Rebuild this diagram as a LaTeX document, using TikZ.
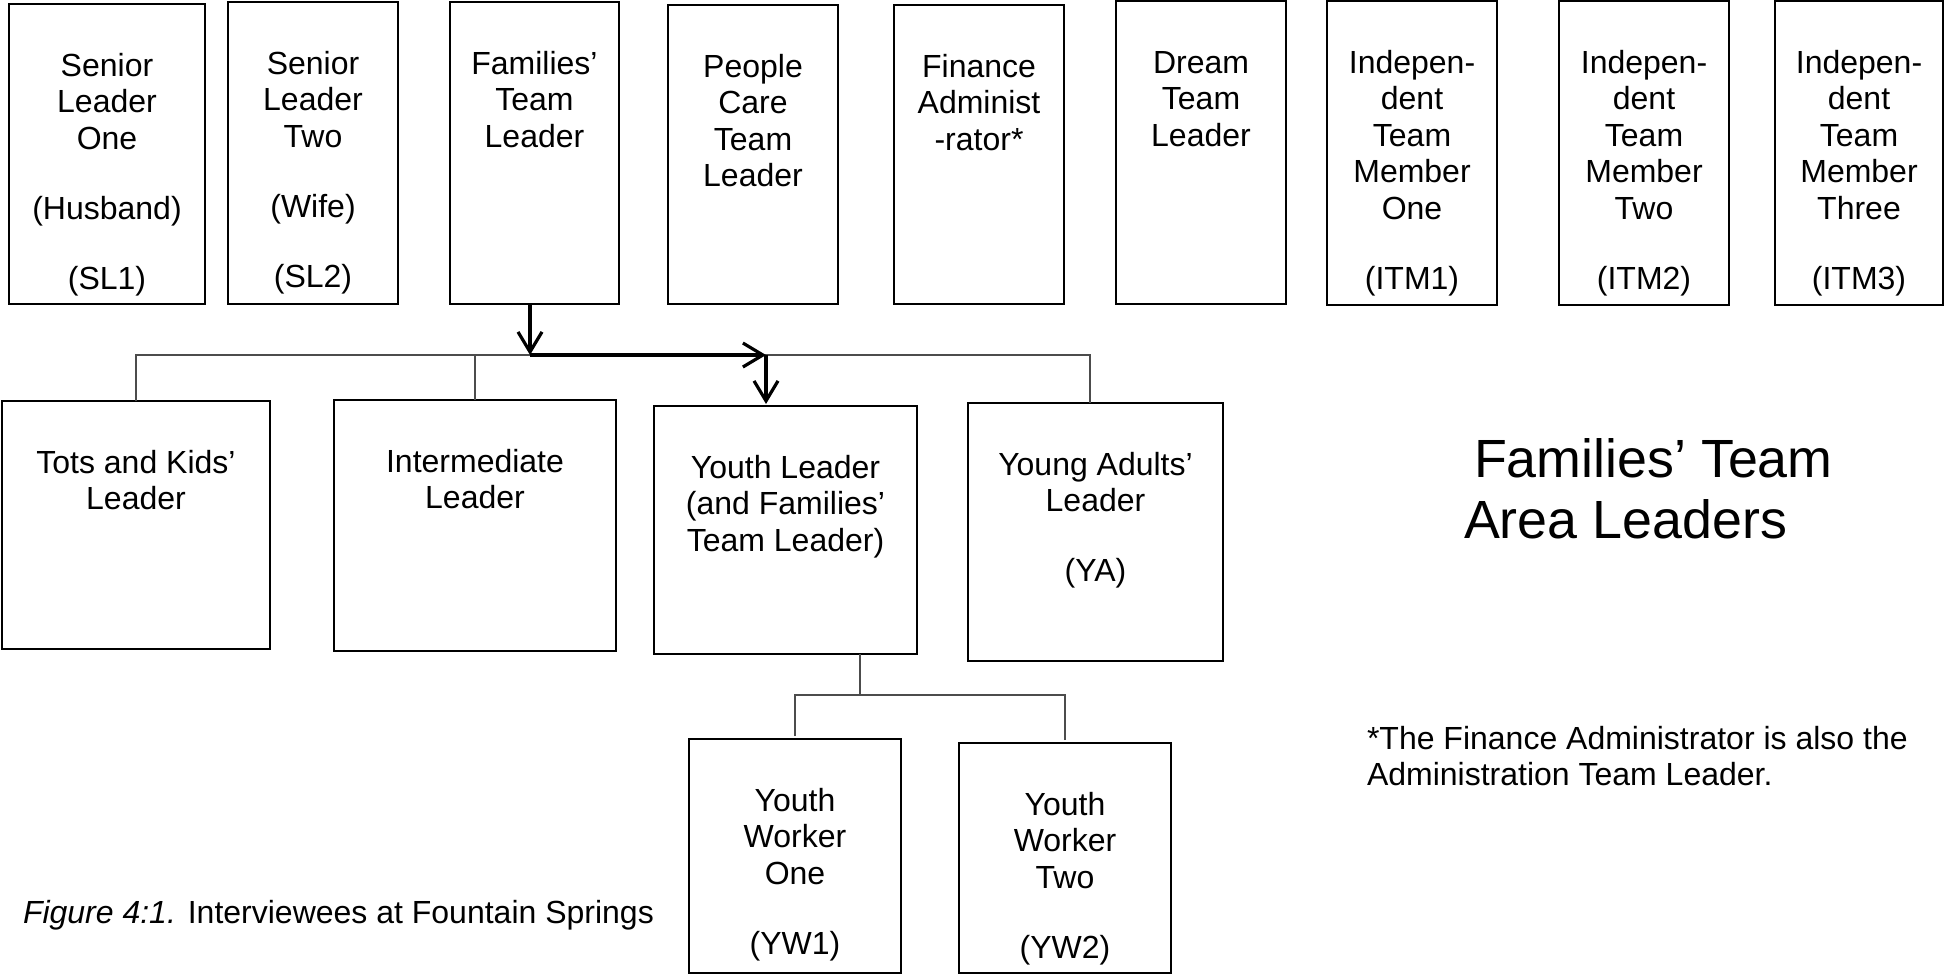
\documentclass[tikz,border=0pt]{standalone}
\usepackage{fontspec}
\setmainfont{Liberation Sans}
\usetikzlibrary{arrows.meta,calc}
\tikzset{
  orgbox/.style={draw=black, line width=1.1pt, inner sep=0pt, outer sep=0pt,
    font=\fontsize{16pt}{18.25pt}\selectfont},
  conn/.style={draw=black!70, line width=0.7pt},
  thickarrow/.style={draw=black, line width=1.6pt,
    -{Straight Barb[length=10pt,width=12pt,line width=1.6pt]}},
  plaintext/.style={inner sep=0pt, outer sep=0pt, anchor=base west,
    font=\fontsize{16pt}{18.25pt}\selectfont},
  titletext/.style={inner sep=0pt, outer sep=0pt, anchor=base west,
    font=\fontsize{26.9pt}{31pt}\selectfont}
}
\newcommand{\OrgBox}[6]{%
  \pgfmathsetmacro{\obW}{(#4-#2)*0.5}%
  \pgfmathsetmacro{\obH}{(#5-#3)*0.5}%
  \node[orgbox, anchor=north west] (#1) at (#2,#3)
    {\parbox[t][\obH pt][t]{\obW pt}{\centering\rule{0pt}{36pt}#6}};%
}
\newcommand{\gap}{\\[16.75pt]}
\begin{document}
\begin{tikzpicture}[x=0.5pt, y=-0.5pt]
\useasboundingbox (0,0) rectangle (1946,975);

% top row
\OrgBox{SL1}{9}{4}{205}{304}{Senior\\Leader\\One\gap(Husband)\gap(SL1)}
\OrgBox{SL2}{228}{2}{398}{304}{Senior\\Leader\\Two\gap(Wife)\gap(SL2)}
\OrgBox{FTL}{450}{2}{619}{304}{Families’\\Team\\Leader}
\OrgBox{PCTL}{668}{5}{838}{304}{People\\Care\\Team\\Leader}
\OrgBox{FA}{894}{5}{1064}{304}{Finance\\Administ\\-rator*}
\OrgBox{DTL}{1116}{1}{1286}{304}{Dream\\Team\\Leader}
\OrgBox{ITMa}{1327}{1}{1497}{305}{Indepen-\\dent\\Team\\Member\\One\gap(ITM1)}
\OrgBox{ITMb}{1559}{1}{1729}{305}{Indepen-\\dent\\Team\\Member\\Two\gap(ITM2)}
\OrgBox{ITMc}{1775}{1}{1943}{305}{Indepen-\\dent\\Team\\Member\\Three\gap(ITM3)}

% second row
\OrgBox{Tots}{2}{401}{270}{649}{Tots and Kids’\\Leader}
\OrgBox{Inter}{334}{400}{616}{651}{Intermediate\\Leader}
\OrgBox{Youth}{654}{406}{917}{654}{Youth Leader\\(and Families’\\Team Leader)}
\OrgBox{YA}{968}{403}{1223}{661}{Young Adults’\\Leader\gap(YA)}

% third row
\OrgBox{YWa}{689}{739}{901}{973}{Youth\\Worker\\One\gap(YW1)}
\OrgBox{YWb}{959}{743}{1171}{973}{Youth\\Worker\\Two\gap(YW2)}

% connector points
\coordinate (ftlArr) at (530,355);
\coordinate (junc) at (766,355);
\coordinate (busR) at (1090,355);
\coordinate (ysub) at (860,695);

% thin bus to area leaders
\draw[conn] (Tots.north) |- (busR) -- (YA.north -| busR);
\draw[conn] (Inter.north) -- (Inter.north |- busR);

% thick arrows
\draw[thickarrow] (FTL.south -| ftlArr) -- (ftlArr);
\draw[thickarrow] (ftlArr) -- (junc);
\draw[thickarrow] (junc) -- ($(Youth.north -| junc)+(0,-2)$);

% youth workers
\draw[conn] (Youth.south -| ysub) -- (ysub);
\draw[conn] ($(YWa.north)+(0,-3)$) |- (ysub);
\draw[conn] ($(YWb.north)+(0,-3)$) |- (ysub);

% texts
\node[titletext] (titleA) at (1474,477) {Families’ Team};
\node[titletext] (titleB) at (1464,538) {Area Leaders};
\node[plaintext] (footA) at (1367,749) {*The Finance Administrator is also the};
\node[plaintext] (footB) at (1367,785) {Administration Team Leader.};
\node[plaintext] (caption) at (23,923) {\textit{Figure 4:1.} Interviewees at Fountain Springs};
\end{tikzpicture}
\end{document}
